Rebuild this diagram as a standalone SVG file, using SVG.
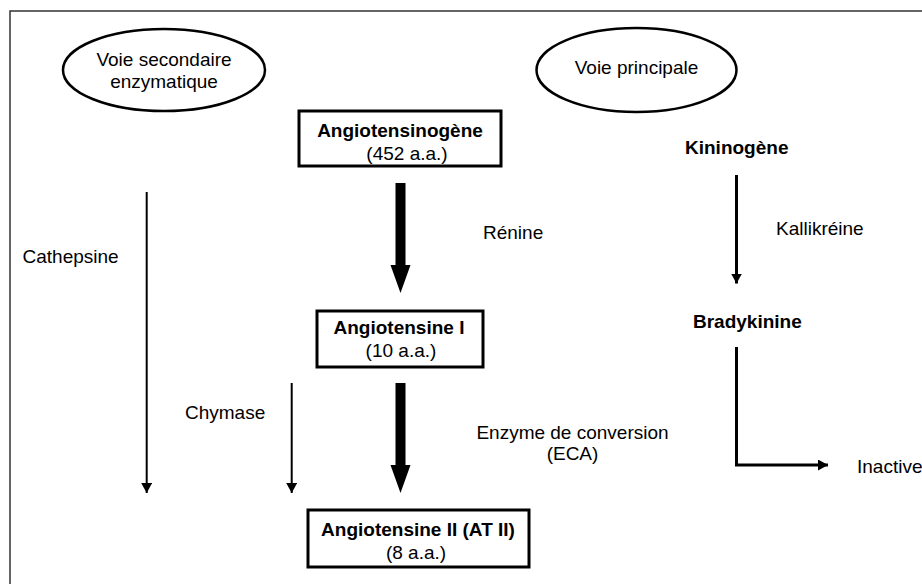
<svg xmlns="http://www.w3.org/2000/svg" width="922" height="584" viewBox="0 0 922 584">
<style>
  text { font-family: "Liberation Sans", Arial, sans-serif; font-size: 19px; fill: #000; }
  .b { font-weight: bold; }
  .m { text-anchor: middle; }
  .box { fill: #fff; stroke: #000; stroke-width: 3; }
  .ell { fill: #fff; stroke: #000; stroke-width: 2.5; }
  .thin { fill: none; stroke: #000; stroke-width: 2; }
  .med { fill: none; stroke: #000; stroke-width: 3; }
  .thick { fill: #000; stroke: none; }
</style>
<defs>
  <marker id="ah" markerUnits="userSpaceOnUse" markerWidth="11" markerHeight="11" refX="10" refY="5.5" orient="auto">
    <path d="M0,0 L10,5.5 L0,11 Z" fill="#000"/>
  </marker>
</defs>
<rect x="0" y="0" width="922" height="584" fill="#fff"/>
<rect id="frame" x="10" y="11" width="930" height="600" fill="none" stroke="#333" stroke-width="1.5"/>

<g id="voie-secondaire">
  <ellipse class="ell" cx="164" cy="70" rx="101" ry="41"/>
  <text class="m" x="164" y="66">Voie secondaire</text>
  <text class="m" x="164" y="88">enzymatique</text>
</g>
<g id="voie-principale">
  <ellipse class="ell" cx="636.5" cy="70" rx="100" ry="42"/>
  <text class="m" x="636.5" y="74">Voie principale</text>
</g>

<g id="angiotensinogene">
  <rect class="box" x="299" y="111" width="202" height="55"/>
  <text class="b m" x="400" y="137">Angiotensinogène</text>
  <text class="m" x="407" y="160">(452 a.a.)</text>
</g>
<g id="angiotensine-i">
  <rect class="box" x="317" y="311" width="166" height="56"/>
  <text class="b m" x="399" y="334">Angiotensine I</text>
  <text class="m" x="401" y="357">(10 a.a.)</text>
</g>
<g id="angiotensine-ii">
  <rect class="box" x="308" y="510" width="221" height="57"/>
  <text class="b m" x="418" y="536">Angiotensine II (AT II)</text>
  <text class="m" x="416" y="559">(8 a.a.)</text>
</g>

<g id="kininogene">
  <text class="b" x="685" y="154">Kininogène</text>
</g>
<g id="bradykinine">
  <text class="b" x="693" y="328">Bradykinine</text>
</g>
<g id="inactive">
  <text x="857" y="473">Inactive</text>
</g>

<g id="connectors">
  <path class="thick" d="M395.5,183 H405.5 V265 H410.5 L400.5,293 L390.5,265 H395.5 Z"/>
  <path class="thick" d="M395.5,383 H405.5 V465 H410.5 L400.5,493 L390.5,465 H395.5 Z"/>
  <line class="thin" x1="146.7" y1="192" x2="146.7" y2="493" marker-end="url(#ah)"/>
  <line class="thin" x1="291.7" y1="383" x2="291.7" y2="493" marker-end="url(#ah)"/>
  <line class="med" x1="736.5" y1="175" x2="736.5" y2="283.5" marker-end="url(#ah)"/>
  <path class="med" d="M736.5,347 V465 H828" marker-end="url(#ah)"/>
</g>

<g id="labels">
  <text x="22.5" y="263">Cathepsine</text>
  <text x="185" y="419">Chymase</text>
  <text x="483" y="239">Rénine</text>
  <text x="776" y="235">Kallikréine</text>
  <text class="m" x="572.5" y="439">Enzyme de conversion</text>
  <text class="m" x="572.5" y="460">(ECA)</text>
</g>
</svg>
